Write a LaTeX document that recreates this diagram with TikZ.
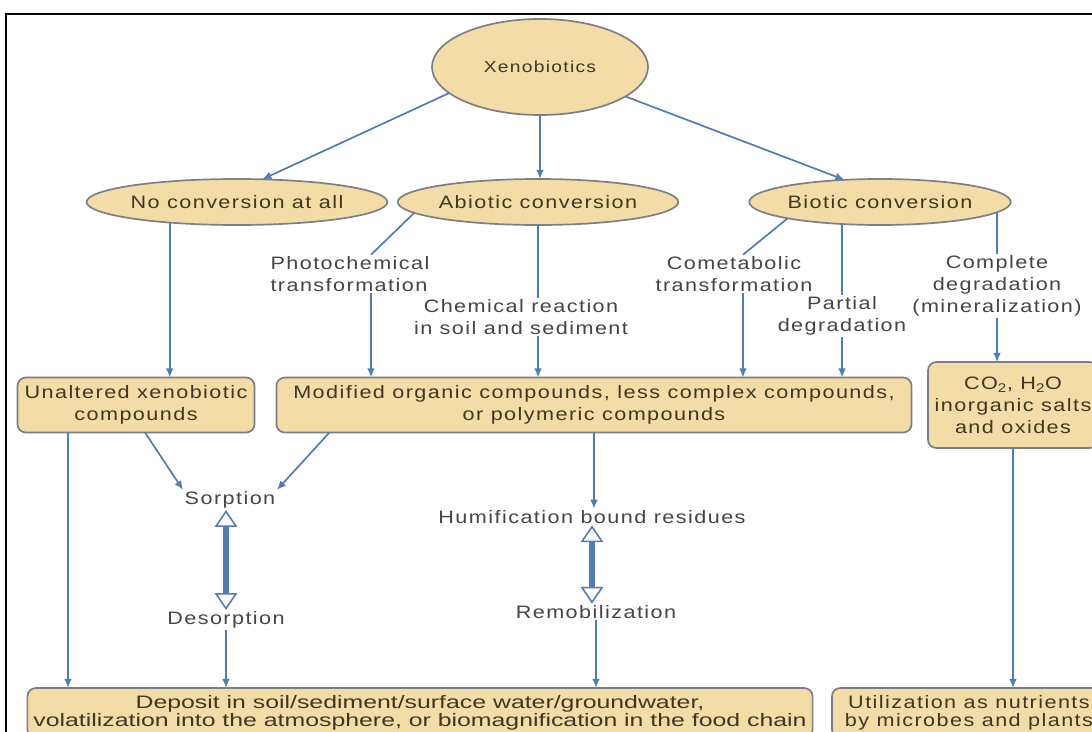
\documentclass[tikz,border=0pt]{standalone}
\usepackage{fontspec}
\usepackage{xcolor}
\usepackage{tikz}
\usetikzlibrary{arrows.meta, positioning, calc, shapes.geometric}
\newfontfamily\xfont[FakeStretch=1.2, LetterSpace=8]{Liberation Sans}
\newfontfamily\dfont[FakeStretch=1.38]{Liberation Sans}
\definecolor{xtan}{HTML}{F3DCA5}
\definecolor{xedge}{HTML}{7D7F86}
\definecolor{xblue}{HTML}{4F7CB5}
\definecolor{xtext}{HTML}{3F3624}
\definecolor{xgrey}{HTML}{454545}

\tikzset{
  oval/.style={ellipse, draw=xedge, fill=xtan, line width=1.2pt, inner sep=0pt,
    outer sep=0pt, text=xtext, font=\xfont\fontsize{12.8}{15.6}\selectfont},
  cbox/.style={rectangle, rounded corners=6pt, draw=xedge, fill=xtan, line width=1.2pt,
    inner sep=0pt, outer sep=0pt, align=center, text=xtext,
    font=\xfont\fontsize{12.8}{15.6}\selectfont},
  lbl/.style={align=center, text=xgrey, inner sep=1pt,
    font=\xfont\fontsize{12.8}{15.6}\selectfont},
  arr/.style={-{Latex[length=6.5pt,width=5.5pt]}, xblue, line width=1.2pt},
  link/.style={xblue, line width=1.2pt},
  twoway/.style={{Triangle[fill=white,length=12pt,width=16pt,line width=1.1pt]}-{Triangle[fill=white,length=12pt,width=16pt,line width=1.1pt]},
    xblue, line width=4.5pt}
}

\begin{document}
\begin{tikzpicture}[x=0.025cm, y=-0.025cm]
\clip (0,0) rectangle (1092,731);
\fill[white] (0,0) rectangle (1092,731);
\draw[black, line width=1.5pt] (6,760) -- (6,14) -- (1120,14);

% top level
\node[oval, minimum width=5.4cm, minimum height=2.4cm,
  font=\xfont\fontsize{11.4}{14}\selectfont] (xeno) at (540,67) {Xenobiotics};
\node[oval, minimum width=5.875cm, minimum height=1.15cm] (noconv) at (237,202) {No conversion at all};
\node[oval, minimum width=5.5cm, minimum height=1.15cm] (abiotic) at (538,202) {Abiotic conversion};
\node[oval, minimum width=5.5cm, minimum height=1.15cm] (biotic) at (880,202) {Biotic conversion};

% pathway labels
\node[lbl, align=left] (photo) at (350,274) {Photochemical\\transformation};
\node[lbl] (chem) at (521,317) {Chemical reaction\\in soil and sediment};
\node[lbl] (comet) at (734,274) {Cometabolic\\transformation};
\node[lbl] (partial) at (842,316) {Partial\\degradation};
\node[lbl] (complete) at (997,286) {Complete\\degradation\\(mineralization)};

% products
\node[cbox, minimum width=5.925cm, minimum height=1.375cm] (unalt) at (136,405)
  {Unaltered xenobiotic\\compounds};
\node[cbox, minimum width=15.875cm, minimum height=1.375cm] (modified) at (594,405)
  {Modified organic compounds, less complex compounds,\\or polymeric compounds};
\node[cbox, minimum width=4.25cm, minimum height=2.15cm] (co2) at (1013,405)
  {CO\textsubscript{2}, H\textsubscript{2}O\\inorganic salts\\and oxides};

\node[lbl] (sorp) at (230,500) {Sorption};
\node[lbl] (desorp) at (226,620) {Desorption};
\node[lbl] (humif) at (592,517) {Humification bound residues};
\node[lbl] (remob) at (596,612) {Remobilization};

% fate
\node[cbox, minimum width=19.625cm, minimum height=1.25cm,
  font=\dfont\fontsize{12.8}{13}\selectfont] (deposit) at (420,713)
  {Deposit in soil/sediment/surface water/groundwater,\\volatilization into the atmosphere, or biomagnification in the food chain};
\node[cbox, minimum width=6.85cm, minimum height=1.25cm,
  font=\xfont\fontsize{12.8}{13}\selectfont] (util) at (969,713)
  {Utilization as nutrients\\by microbes and plants};

\coordinate (pin) at ($(photo.north)+(21,0)$);
\coordinate (cin) at ($(comet.north)+(9,0)$);
\coordinate (uleft) at ($(unalt.south)+(-68,0)$);

\draw[arr] (xeno.196) -- (noconv.42);
\draw[arr] (xeno.south) -- (xeno.south |- abiotic.north);
\draw[arr] (xeno.341) -- (biotic.148);

\draw[arr] (noconv.197) -- (noconv.197 |- unalt.north);
\draw[link] (abiotic.185) -- (pin);
\draw[arr] (pin |- photo.south) -- (pin |- modified.north);
\draw[link] (abiotic.south) -- (abiotic.south |- chem.north);
\draw[arr] (abiotic.south |- chem.south) -- (abiotic.south |- modified.north);
\draw[link] (biotic.190) -- (cin);
\draw[arr] (cin |- comet.south) -- (cin |- modified.north);
\draw[link] (partial.north |- biotic.south) -- (partial.north);
\draw[arr] (partial.south) -- (partial.south |- modified.north);
\draw[link] (biotic.355) -- (biotic.355 |- complete.north);
\draw[arr] (biotic.355 |- complete.south) -- (biotic.355 |- co2.north);

\draw[arr] (uleft) -- (uleft |- deposit.north);
\draw[arr] ($(unalt.south)+(9,0)$) -- (sorp.north west);
\draw[arr] ($(modified.south west)+(53,0)$) -- (sorp.north east);
\draw[arr] (modified.south) -- (modified.south |- humif.north);
\draw[twoway] (desorp.north |- sorp.south) -- (desorp.north);
\draw[arr] (desorp.south) -- (desorp.south |- deposit.north);
\draw[twoway] (humif.south) -- (humif.south |- remob.north);
\draw[arr] (remob.south) -- (remob.south |- deposit.north);
\draw[arr] (co2.south) -- (co2.south |- util.north);
\end{tikzpicture}
\end{document}
